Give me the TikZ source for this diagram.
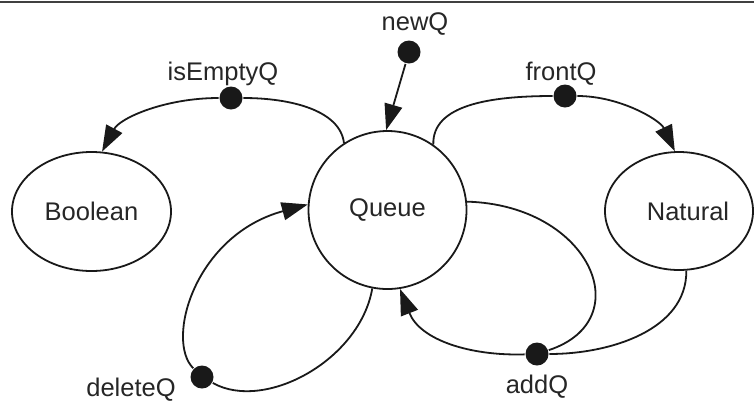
\documentclass[tikz,border=0pt]{standalone}
\usepackage{fontspec}
\setmainfont{Liberation Sans}
\usetikzlibrary{shapes.geometric,arrows.meta}
\begin{document}
\begin{tikzpicture}[x=1pt,y=-1pt,
  line width=1.8pt,
  every node/.style={font=\fontsize{25.5}{30}\selectfont, text=black!85},
  state/.style={draw=black!90, line width=1.8pt, inner sep=0pt},
  opdot/.style={circle, fill=black!90, minimum size=23pt, inner sep=0pt},
  oplabel/.style={anchor=base},
  conn/.style={draw=black!90, line width=1.8pt},
  arr/.style={conn, -{Triangle[length=26pt,width=18pt]}},
]
\useasboundingbox (0,0) rectangle (754,400);
\draw[black!75, line width=2pt] (0,1.5) -- (754,1.5);

% states
\node[state, ellipse, minimum width=159pt, minimum height=119pt] (B) at (91.5,211.5) {Boolean};
\node[state, circle, minimum size=158pt] (Q) at (387.5,210) {Queue};
\node[state, ellipse, minimum width=148pt, minimum height=118pt] (N) at (679,211) {};
\node (Nt) at (688,211) {Natural};

% operation dots
\node[opdot] (nq) at (409,52) {};
\node[opdot] (ie) at (231,98) {};
\node[opdot] (fq) at (565,96) {};
\node[opdot] (dq) at (202,377) {};
\node[opdot] (aq) at (537,354) {};

% labels
\node[oplabel] (lnq) at (415,30) {newQ};
\node[oplabel] (lie) at (223,80) {isEmptyQ};
\node[oplabel] (lfq) at (561,80) {frontQ};
\node[oplabel] (ldq) at (131,396) {deleteQ};
\node[oplabel] (laq) at (537,393) {addQ};

% connectors
\draw[arr] (nq) -- (Q.91);
\draw[conn] (Q.123) .. controls (340,110) and (290,98) .. (ie);
\draw[arr] (ie) .. controls (165,98) and (120,118) .. (B.80);
\draw[conn] (Q.55) .. controls (432,105) and (490,96) .. (fq);
\draw[arr] (fq) .. controls (620,96) and (660,120) .. (N.94);
\draw[conn] (Q.259) .. controls (360,360) and (265,412) .. (dq);
\draw[arr] (dq) .. controls (165,340) and (195,235) .. (Q.176);
\draw[conn] (Q.6) .. controls (590,205) and (640,320) .. (aq);
\draw[conn] (N.277) .. controls (687,330) and (610,354) .. (aq);
\draw[arr] (aq) .. controls (470,356) and (420,340) .. (Q.279);
\end{tikzpicture}
\end{document}
